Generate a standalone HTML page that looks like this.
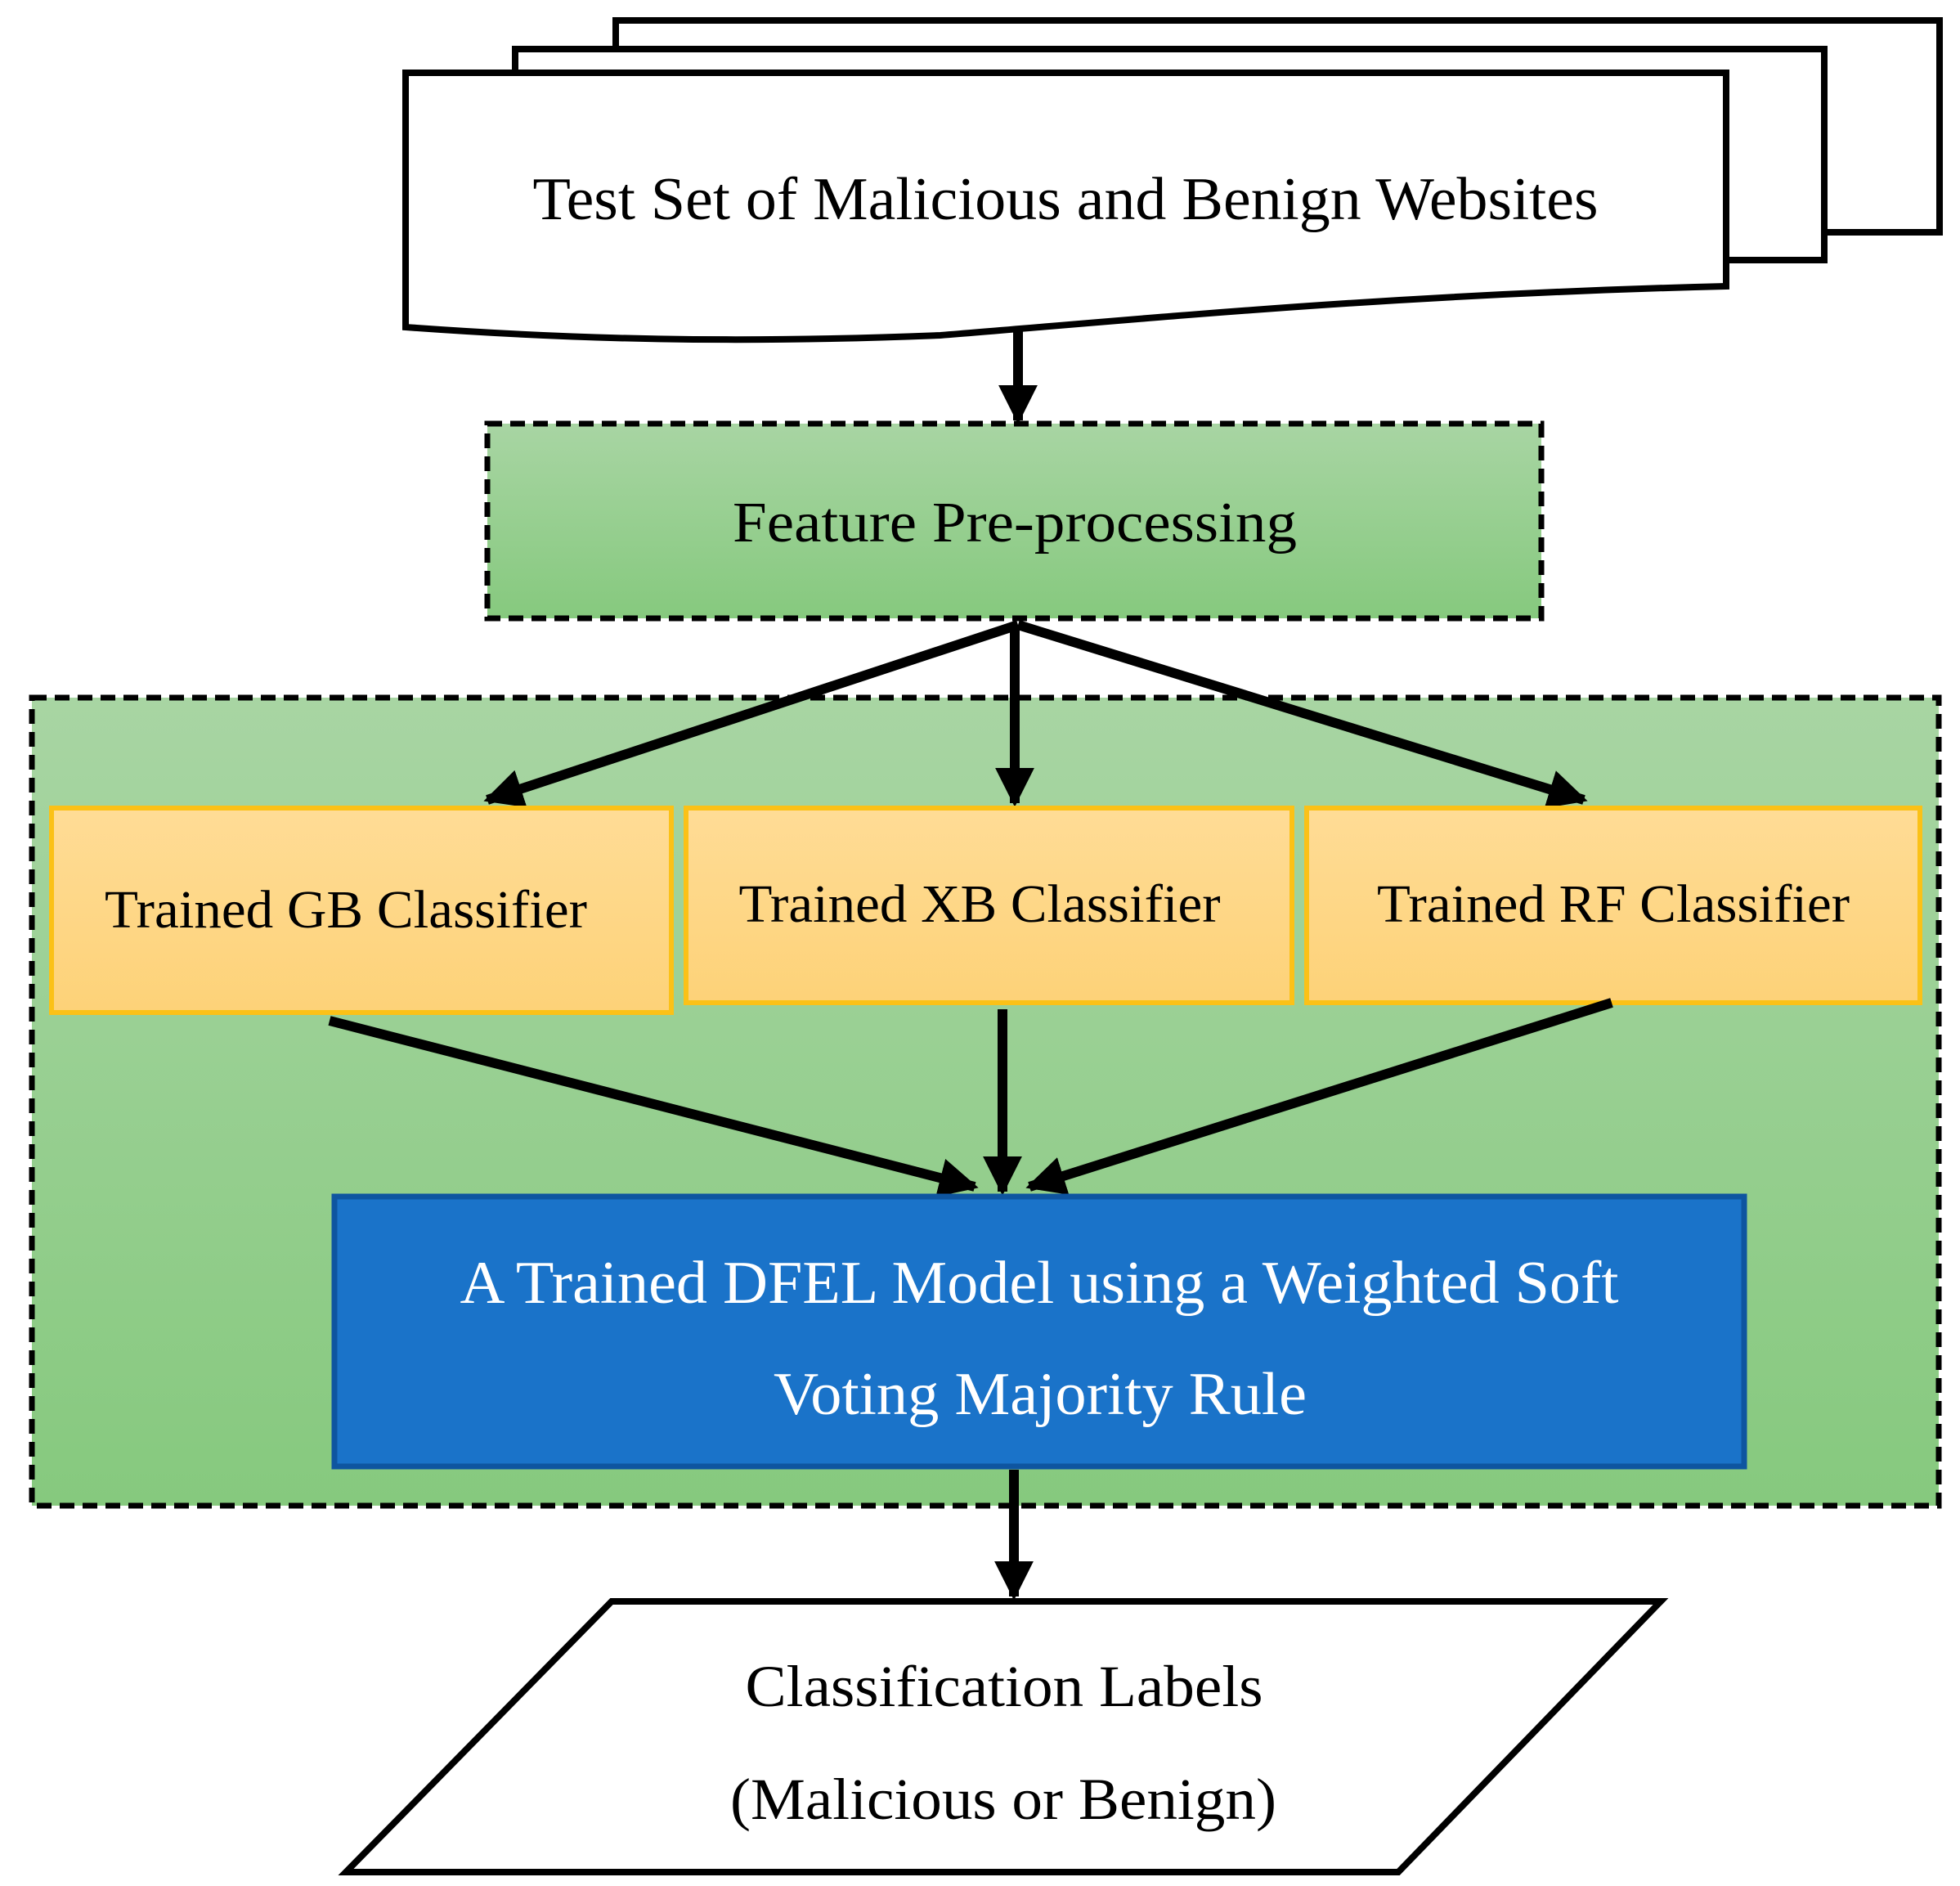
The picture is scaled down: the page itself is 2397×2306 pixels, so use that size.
<!DOCTYPE html>
<html><head><meta charset="utf-8"><style>html,body{margin:0;padding:0;background:#fff}svg{display:block}</style></head>
<body>
<svg width="2397" height="2306" viewBox="0 0 2397 2306" xmlns="http://www.w3.org/2000/svg" font-family="Liberation Serif, serif">
<defs>
<linearGradient id="g1" x1="0" y1="0" x2="0" y2="1"><stop offset="0" stop-color="#a8d5a3"/><stop offset="1" stop-color="#86c97e"/></linearGradient>
<linearGradient id="y1" x1="0" y1="0" x2="0" y2="1"><stop offset="0" stop-color="#ffdc96"/><stop offset="1" stop-color="#fdd278"/></linearGradient>
<marker id="ah" markerWidth="4" markerHeight="4" refX="3.6" refY="2" orient="auto" markerUnits="strokeWidth"><path d="M0,0 L4,2 L0,4 z" fill="#000"/></marker>
</defs>
<!-- documents -->
<rect x="753" y="25" width="1619" height="259" fill="#fff" stroke="#000" stroke-width="8"/>
<rect x="630" y="60" width="1601" height="258" fill="#fff" stroke="#000" stroke-width="8"/>
<path d="M496,89 L2111,89 L2111,350 C1700,360 1400,390 1150,410 C900,420 700,415 496,400 Z" fill="#fff" stroke="#000" stroke-width="8"/>
<text x="1303" y="268" font-size="74" text-anchor="middle" textLength="1303" lengthAdjust="spacingAndGlyphs">Test Set of Malicious and Benign Websites</text>
<line x1="1245" y1="402" x2="1245" y2="514" stroke="#000" stroke-width="12" marker-end="url(#ah)"/>
<!-- feature -->
<rect x="596" y="518" width="1289" height="238" fill="url(#g1)" stroke="#000" stroke-width="7" stroke-dasharray="18,10"/>
<text x="1241" y="662" font-size="70" text-anchor="middle" textLength="690" lengthAdjust="spacingAndGlyphs">Feature Pre-processing</text>
<!-- container -->
<rect x="39" y="853" width="2332" height="988" fill="url(#g1)" stroke="#000" stroke-width="7" stroke-dasharray="18,10"/>
<!-- arrows top -->
<line x1="1245" y1="764" x2="596" y2="978" stroke="#000" stroke-width="12" marker-end="url(#ah)"/>
<line x1="1241" y1="764" x2="1241" y2="982" stroke="#000" stroke-width="12" marker-end="url(#ah)"/>
<line x1="1245" y1="764" x2="1937" y2="978" stroke="#000" stroke-width="12" marker-end="url(#ah)"/>
<!-- classifiers -->
<rect x="63" y="988" width="758" height="250" fill="url(#y1)" stroke="#fbc117" stroke-width="6"/>
<rect x="839" y="988" width="741" height="238" fill="url(#y1)" stroke="#fbc117" stroke-width="6"/>
<rect x="1598" y="988" width="750" height="238" fill="url(#y1)" stroke="#fbc117" stroke-width="6"/>
<text x="423" y="1134" font-size="66" text-anchor="middle" textLength="590" lengthAdjust="spacingAndGlyphs">Trained GB Classifier</text>
<text x="1198" y="1127" font-size="66" text-anchor="middle" textLength="589" lengthAdjust="spacingAndGlyphs">Trained XB Classifier</text>
<text x="1973" y="1127" font-size="66" text-anchor="middle" textLength="578" lengthAdjust="spacingAndGlyphs">Trained RF Classifier</text>
<!-- arrows to blue -->
<line x1="403" y1="1248" x2="1192" y2="1451" stroke="#000" stroke-width="12" marker-end="url(#ah)"/>
<line x1="1226" y1="1234" x2="1226" y2="1457" stroke="#000" stroke-width="12" marker-end="url(#ah)"/>
<line x1="1971" y1="1226" x2="1259" y2="1451" stroke="#000" stroke-width="12" marker-end="url(#ah)"/>
<!-- blue -->
<rect x="409" y="1463" width="1724" height="330" fill="#1a73c9" stroke="#0e55a0" stroke-width="7"/>
<text x="1271" y="1593" font-size="74" fill="#fff" text-anchor="middle" textLength="1417" lengthAdjust="spacingAndGlyphs">A Trained DFEL Model using a Weighted Soft</text>
<text x="1272" y="1729" font-size="74" fill="#fff" text-anchor="middle" textLength="652" lengthAdjust="spacingAndGlyphs">Voting Majority Rule</text>
<line x1="1240" y1="1797" x2="1240" y2="1952" stroke="#000" stroke-width="12" marker-end="url(#ah)"/>
<!-- parallelogram -->
<polygon points="748,1958 2031,1958 1710,2289 423,2289" fill="#fff" stroke="#000" stroke-width="8"/>
<text x="1228" y="2086" font-size="72" text-anchor="middle" textLength="633" lengthAdjust="spacingAndGlyphs">Classification Labels</text>
<text x="1227" y="2224" font-size="72" text-anchor="middle" textLength="668" lengthAdjust="spacingAndGlyphs">(Malicious or Benign)</text>
</svg>
</body></html>
